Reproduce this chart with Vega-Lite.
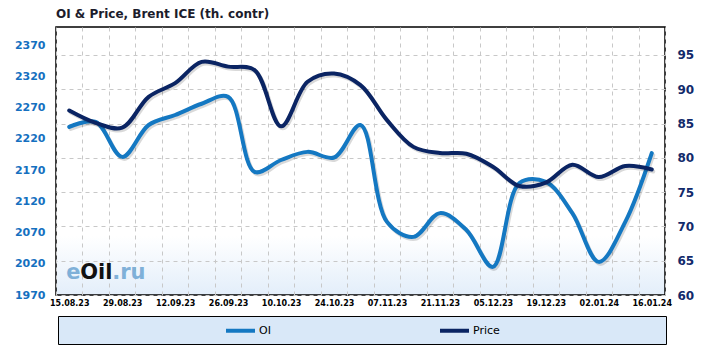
{
  "$schema": "https://vega.github.io/schema/vega-lite/v6.json",
  "autosize": "none",
  "width": 609,
  "height": 268,
  "padding": {"left": 56, "top": 27, "right": 61, "bottom": 50},
  "background": "#ffffff",
  "title": {"text": "OI  & Price,  Brent ICE  (th. contr)", "anchor": "start", "frame": "group", "fontSize": 12, "fontWeight": "bold", "color": "#1c1c2c", "offset": 6, "font": "DejaVu Sans"},
  "data": {"values": [
    {"week": "15.08.23", "OI": 2239, "Price": 86.9},
    {"week": "22.08.23", "OI": 2247, "Price": 85.1},
    {"week": "29.08.23", "OI": 2191, "Price": 84.4},
    {"week": "05.09.23", "OI": 2242, "Price": 88.9},
    {"week": "12.09.23", "OI": 2258, "Price": 90.9},
    {"week": "19.09.23", "OI": 2276, "Price": 94.0},
    {"week": "26.09.23", "OI": 2287, "Price": 93.3},
    {"week": "03.10.23", "OI": 2167, "Price": 92.8},
    {"week": "10.10.23", "OI": 2186, "Price": 84.6},
    {"week": "17.10.23", "OI": 2199, "Price": 91.1},
    {"week": "24.10.23", "OI": 2190, "Price": 92.3},
    {"week": "31.10.23", "OI": 2242, "Price": 90.6},
    {"week": "07.11.23", "OI": 2087, "Price": 85.5},
    {"week": "14.11.23", "OI": 2063, "Price": 81.6},
    {"week": "21.11.23", "OI": 2101, "Price": 80.7},
    {"week": "28.11.23", "OI": 2074, "Price": 80.6},
    {"week": "05.12.23", "OI": 2015, "Price": 78.7},
    {"week": "12.12.23", "OI": 2149, "Price": 75.9},
    {"week": "19.12.23", "OI": 2151, "Price": 76.4},
    {"week": "26.12.23", "OI": 2101, "Price": 79.0},
    {"week": "02.01.24", "OI": 2023, "Price": 77.2},
    {"week": "09.01.24", "OI": 2087, "Price": 78.8},
    {"week": "16.01.24", "OI": 2197, "Price": 78.3}
  ]},
  "encoding": {
    "x": {
      "field": "week", "type": "ordinal", "sort": null, "bandPosition": 0.5,
      "scale": {"type": "band", "paddingInner": 0, "paddingOuter": 0},
      "axis": {
        "title": null, "labelFontSize": 8, "labelFontWeight": "bold", "labelColor": "#000000",
        "labelPadding": 4, "labelAngle": 0, "ticks": false, "tickSize": 0, "domain": false,
        "grid": true, "gridColor": "#c8c8c8", "gridDash": [4, 4], "tickBand": "extent", "labelOverlap": false,
        "labelExpr": "indexof(['22.08.23','05.09.23','19.09.23','03.10.23','17.10.23','31.10.23','14.11.23','28.11.23','12.12.23','26.12.23','09.01.24'], datum.value) >= 0 ? '' : datum.label"
      }
    }
  },
  "layer": [
    {
      "encoding": {
        "y": {
          "field": "OI", "type": "quantitative",
          "scale": {"domain": [1970, 2398.8], "nice": false, "zero": false},
          "axis": {"title": null, "orient": "left", "format": "d", "values": [1970, 2020, 2070, 2120, 2170, 2220, 2270, 2320, 2370], "labelColor": "#1570c0", "labelFontSize": 11, "labelFontWeight": "bold", "labelPadding": 11, "ticks": false, "tickSize": 0, "domain": false, "grid": false}
        }
      },
      "layer": [
        {
          "transform": [{"filter": "datum.week == '15.08.23'"}],
          "mark": {"type": "text", "text": "e", "align": "left", "baseline": "alphabetic", "dx": -3, "fontSize": 21, "fontWeight": "bold", "color": "#7fb0d8", "font": "DejaVu Sans"},
          "encoding": {"y": {"datum": 1995, "type": "quantitative"}}
        },
        {
          "transform": [{"filter": "datum.week == '15.08.23'"}],
          "mark": {"type": "text", "text": "Oil", "align": "left", "baseline": "alphabetic", "dx": 11, "fontSize": 21, "fontWeight": "bold", "color": "#111111", "font": "DejaVu Sans"},
          "encoding": {"y": {"datum": 1995, "type": "quantitative"}}
        },
        {
          "transform": [{"filter": "datum.week == '15.08.23'"}],
          "mark": {"type": "text", "text": ".ru", "align": "left", "baseline": "alphabetic", "dx": 43, "fontSize": 21, "fontWeight": "bold", "color": "#7fb0d8", "font": "DejaVu Sans"},
          "encoding": {"y": {"datum": 1995, "type": "quantitative"}}
        },
        {
          "mark": {"type": "line", "interpolate": "catmull-rom", "strokeWidth": 4, "color": "#000000", "opacity": 0.15, "xOffset": 1.5, "yOffset": 2, "strokeCap": "round"}
        },
        {
          "mark": {"type": "line", "interpolate": "catmull-rom", "strokeWidth": 4, "strokeCap": "round"},
          "encoding": {
            "color": {
              "datum": "OI",
              "scale": {"domain": ["OI", "Price"], "range": ["#1478c2", "#0a2463"]},
              "legend": {
                "orient": "none", "legendX": 2, "legendY": 289, "direction": "horizontal",
                "title": "\u00a0", "titleOrient": "left", "titlePadding": 168, "titleFontSize": 11,
                "padding": 5, "strokeColor": "#000000", "fillColor": "#d9e8f8",
                "symbolType": "M-2,0H2", "symbolSize": 210, "symbolStrokeWidth": 4,
                "labelFont": "DejaVu Sans", "labelFontSize": 11, "labelColor": "#000000", "labelOffset": 9,
                "columnPadding": 161, "labelLimit": 400,
                "labelExpr": "datum.label == 'Price' ? pad(datum.label, 25, '\u2800') : datum.label"
              }
            }
          }
        }
      ]
    },
    {
      "encoding": {
        "y": {
          "field": "Price", "type": "quantitative",
          "scale": {"domain": [60, 99.08], "nice": false, "zero": false},
          "axis": {"title": null, "orient": "right", "values": [60, 65, 70, 75, 80, 85, 90, 95], "labelColor": "#122a6b", "labelFontSize": 12, "labelFontWeight": "bold", "labelPadding": 12, "ticks": false, "tickSize": 0, "domain": false, "grid": true, "gridColor": "#c8c8c8", "gridDash": [4, 4]}
        }
      },
      "layer": [
        {
          "mark": {"type": "line", "interpolate": "catmull-rom", "strokeWidth": 4, "color": "#000000", "opacity": 0.15, "xOffset": 1.5, "yOffset": 2, "strokeCap": "round"}
        },
        {
          "mark": {"type": "line", "interpolate": "catmull-rom", "strokeWidth": 4, "strokeCap": "round"},
          "encoding": {
            "color": {
              "datum": "Price",
              "scale": {"domain": ["OI", "Price"], "range": ["#1478c2", "#0a2463"]}
            }
          }
        }
      ]
    }
  ],
  "resolve": {"scale": {"y": "independent"}, "axis": {"y": "independent"}},
  "config": {
    "font": "DejaVu Sans",
    "view": {
      "stroke": "#000000",
      "strokeWidth": 1.5,
      "fill": {"gradient": "linear", "x1": 0, "y1": 0, "x2": 0, "y2": 1, "stops": [{"offset": 0, "color": "#ffffff"}, {"offset": 0.78, "color": "#ffffff"}, {"offset": 1, "color": "#e3eefa"}]}
    }
  }
}
